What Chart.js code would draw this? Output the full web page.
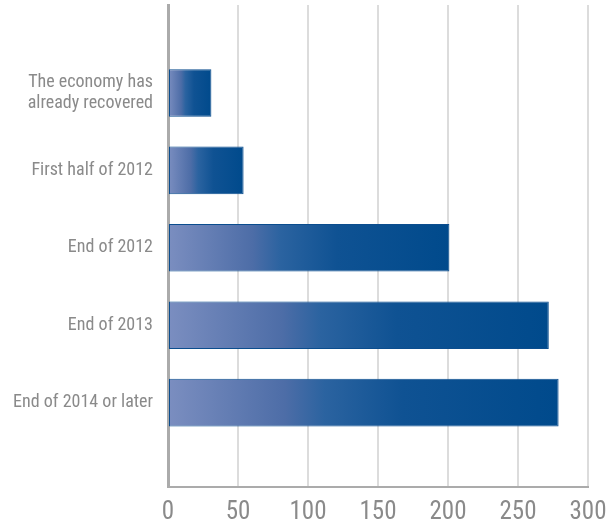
<!DOCTYPE html>
<html>
<head>
<meta charset="utf-8">
<script src="https://cdn.jsdelivr.net/npm/chart.js@4"></script>
<style>
  html, body { margin: 0; padding: 0; background: #fff; }
  #wrap { width: 614px; height: 525px; }
</style>
</head>
<body>
<div id="wrap"><canvas id="chart" width="614" height="525"></canvas></div>
<script>
// Categories (top to bottom) and their values
const categories = [
  ["The economy has", "already recovered"],
  "First half of 2012",
  "End of 2012",
  "End of 2013",
  "End of 2014 or later"
];
const values = [31, 54, 201, 272, 279];
const xTicks = [0, 50, 100, 150, 200, 250, 300];

const labelFont = "'Roboto Condensed', 'Liberation Sans Narrow', 'DejaVu Sans Condensed', sans-serif";

// horizontal gradient for each bar, from the zero line to the bar end
function barGradient(context) {
  const chart = context.chart;
  const { ctx, scales, chartArea } = chart;
  if (!chartArea || !scales.x || !context.parsed) return "#024a8c";
  const x0 = scales.x.getPixelForValue(0);
  const x1 = scales.x.getPixelForValue(context.parsed.x);
  if (!isFinite(x0) || !isFinite(x1)) return "#024a8c";
  const g = ctx.createLinearGradient(x0, 0, Math.max(x1, x0 + 1), 0);
  g.addColorStop(0, "#7b8ec0");
  g.addColorStop(0.3, "#4d6da7");
  g.addColorStop(0.4, "#2b63a0");
  g.addColorStop(0.6, "#0f5293");
  g.addColorStop(1, "#004a8c");
  return g;
}

const points = values.map((v, i) => ({ x: v, y: i }));

new Chart(document.getElementById("chart").getContext("2d"), {
  type: "bar",
  data: {
    datasets: [{
      data: points,
      backgroundColor: barGradient,
      borderColor: "#0b4d8e",
      borderWidth: 1,
      borderSkipped: false,
      barPercentage: 0.615,
      categoryPercentage: 1
    }]
  },
  options: {
    indexAxis: "y",
    responsive: false,
    animation: false,
    layout: { padding: { top: 5, right: 26, left: 0, bottom: 0 } },
    plugins: { legend: { display: false }, tooltip: { enabled: false } },
    scales: {
      x: {
        type: "linear",
        min: 0,
        max: 300,
        afterBuildTicks: (scale) => { scale.ticks = xTicks.map(v => ({ value: v })); },
        afterFit: (scale) => {
          scale.height = 38;
          scale.paddingLeft = 0;
          scale.paddingRight = 0;
        },
        grid: { color: "#dcdcdc", lineWidth: 2, drawTicks: false },
        border: { color: "#ababab", width: 2 },
        ticks: {
          color: "#8a8a8a",
          font: { family: labelFont, size: 25 },
          padding: 11
        }
      },
      y: {
        type: "linear",
        reverse: true,
        offset: false,
        min: -1.137,
        max: 5.09,
        afterBuildTicks: (scale) => { scale.ticks = categories.map((_, i) => ({ value: i })); },
        afterFit: (scale) => {
          scale.width = 168;
          scale.paddingTop = 0;
          scale.paddingBottom = 0;
        },
        grid: { display: false, drawTicks: false },
        border: { color: "#ababab", width: 3 },
        ticks: {
          color: "#8a8a8a",
          font: { family: labelFont, size: 18 },
          padding: 15,
          autoSkip: false,
          callback: (v) => categories[v]
        }
      }
    }
  }
});
</script>
</body>
</html>
